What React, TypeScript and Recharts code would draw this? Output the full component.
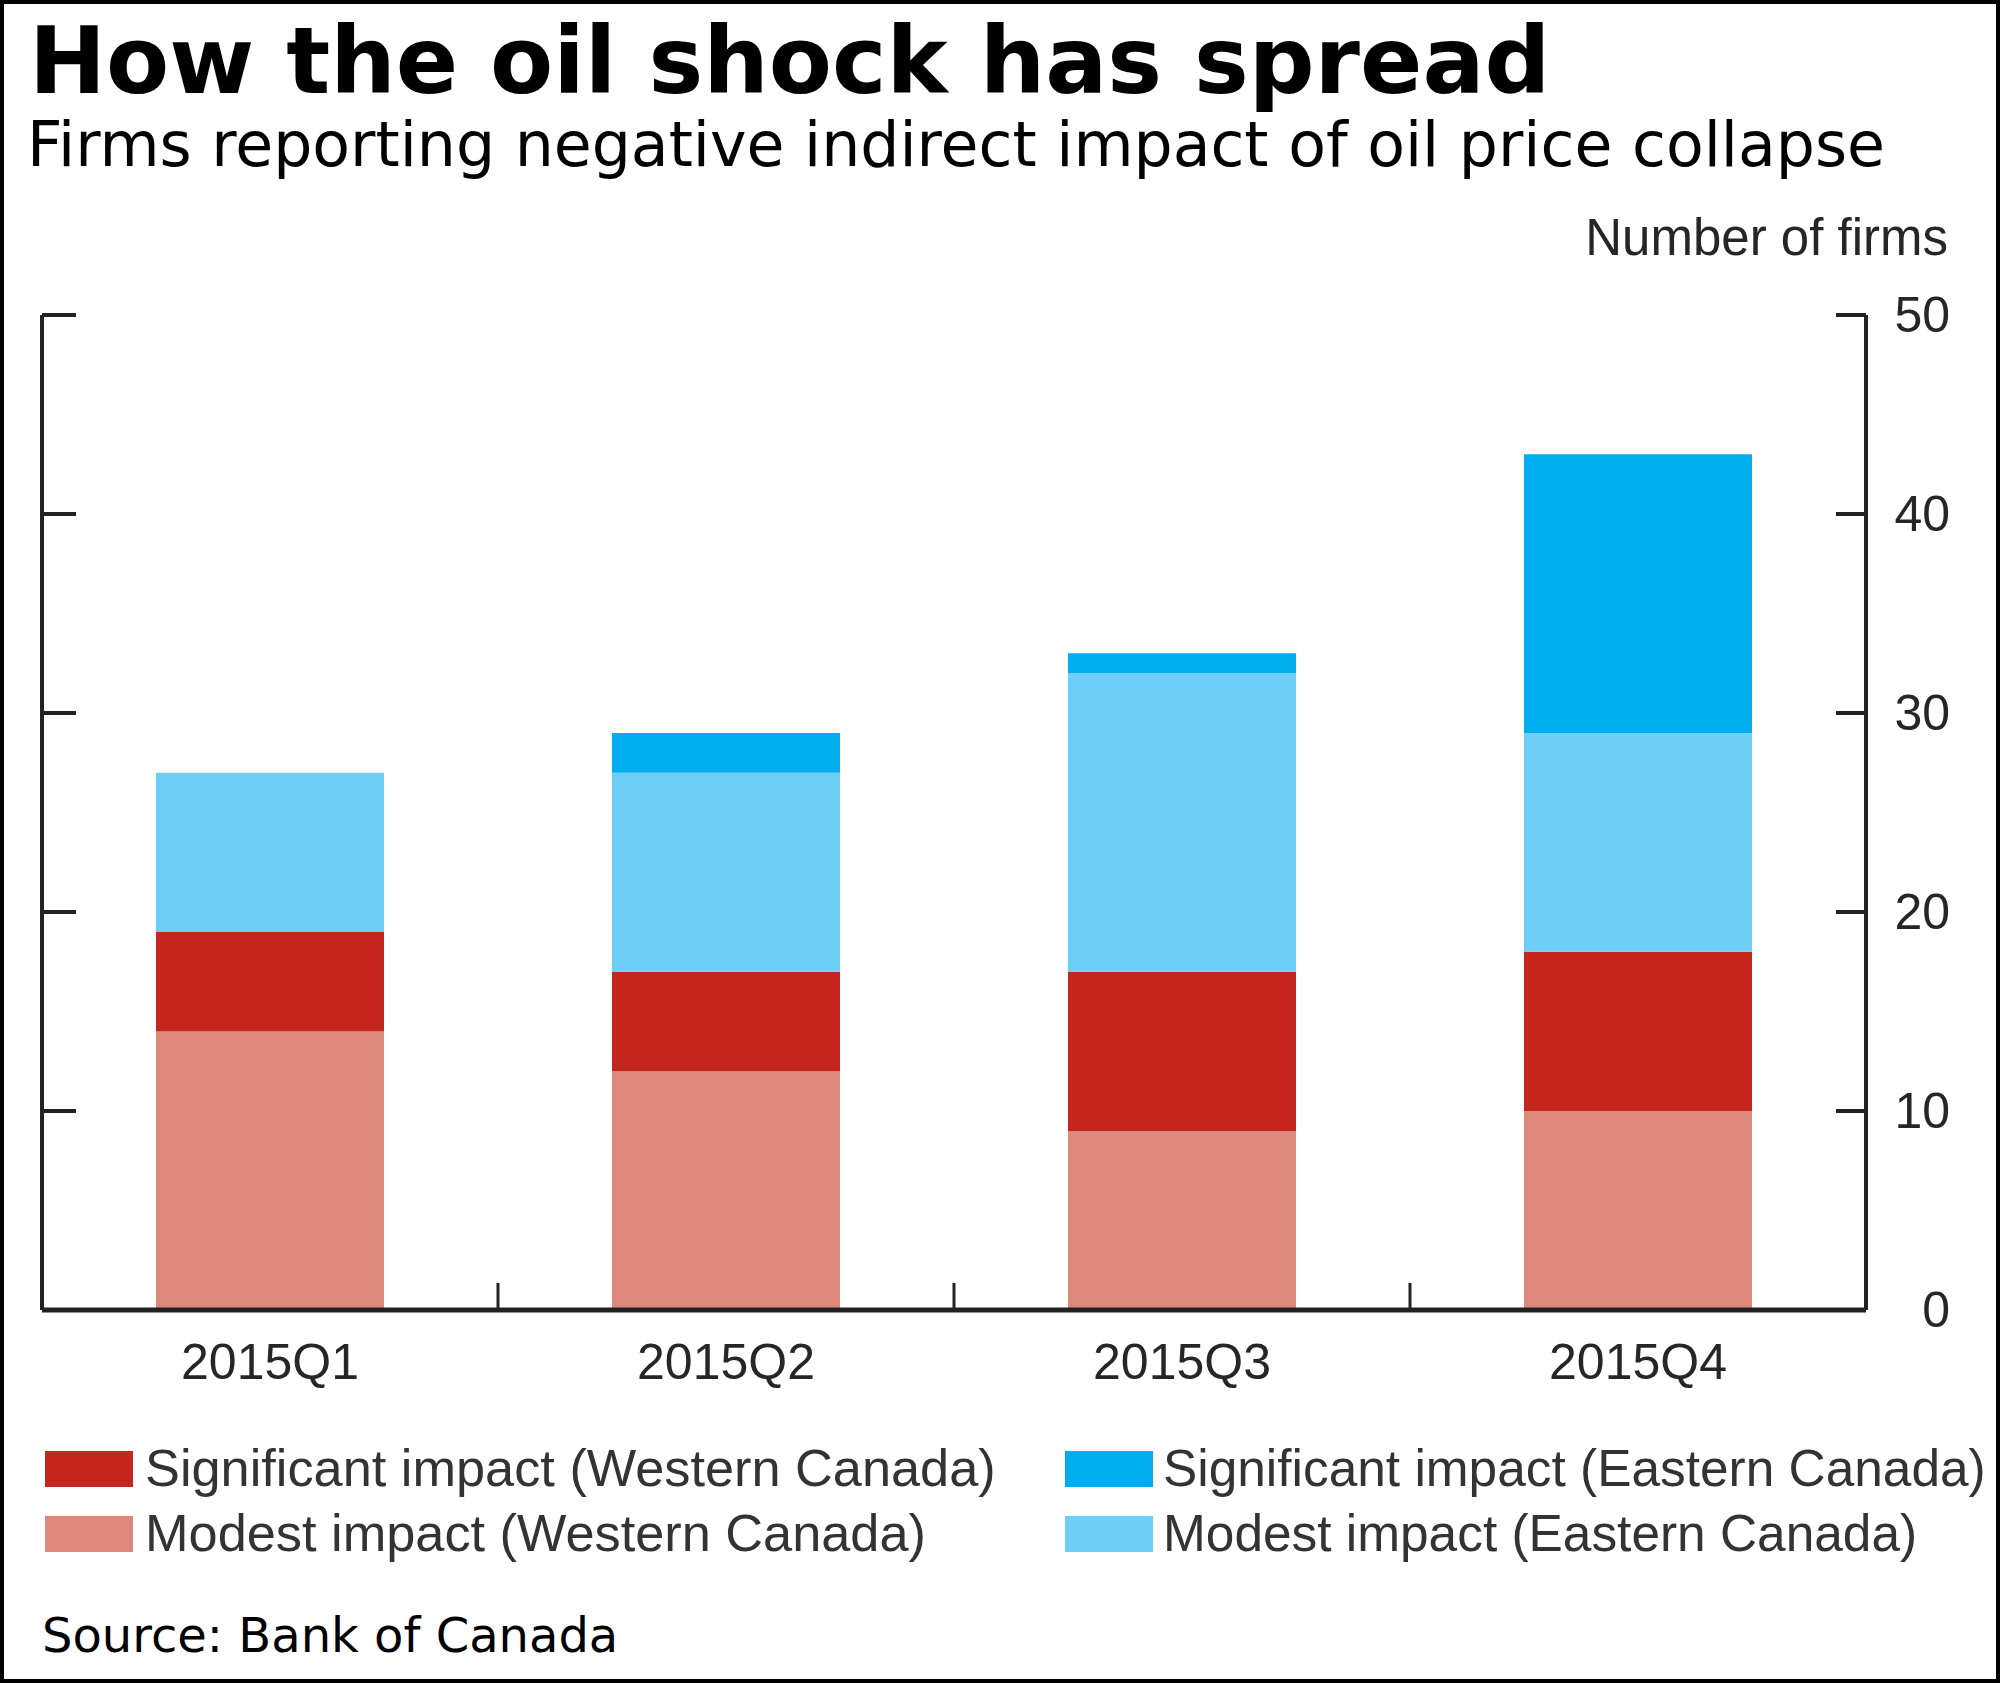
import React from "react";
import { BarChart, Bar, XAxis, YAxis } from "recharts";

// chart values
const quarters = ["2015Q1", "2015Q2", "2015Q3", "2015Q4"];
const modestWest = [14, 12, 9, 10];
const significantWest = [5, 5, 8, 8];
const modestEast = [8, 10, 15, 11];
const significantEast = [0, 2, 1, 14];
const yTicks = [0, 10, 20, 30, 40, 50];

// stacking order, bottom to top
const series = [
  { key: "modestWest", name: "Modest impact (Western Canada)", color: "#DE877B", values: modestWest },
  { key: "significantWest", name: "Significant impact (Western Canada)", color: "#C4261D", values: significantWest },
  { key: "modestEast", name: "Modest impact (Eastern Canada)", color: "#6DCFF6", values: modestEast },
  { key: "significantEast", name: "Significant impact (Eastern Canada)", color: "#00AEEF", values: significantEast },
];

const legendRows = [
  ["significantWest", "significantEast"],
  ["modestWest", "modestEast"],
];

const data = quarters.map((q, i) => {
  const row: Record<string, string | number> = { quarter: q };
  series.forEach((s) => {
    row[s.key] = s.values[i];
  });
  return row;
});

const W = 2000;
const H = 1683;
const plotLeft = 42;
const plotRight = 1866;
const plotTop = 315;
const plotBottom = 1310;
const leftAxisW = 2;
const rightAxisW = 100;
const xAxisH = 80;
const halfBand = (plotRight - plotLeft) / quarters.length / 2;

const axisColor = "#222";
const textColor = "#262626";
const sans = "'Liberation Sans', Arial, sans-serif";
const verdana = "'DejaVu Sans', Verdana, sans-serif";

// right axis tick: inward tick on both frame sides + label outside on the right
const RightTick = (props: any) => {
  const { x, y, payload } = props;
  return (
    <g>
      {payload.value !== 0 && (
        <>
          <line x1={x - 30} x2={x} y1={y} y2={y} stroke={axisColor} strokeWidth={4} />
          <line x1={plotLeft} x2={plotLeft + 34} y1={y} y2={y} stroke={axisColor} strokeWidth={4} />
        </>
      )}
      <text x={x + 84} y={y} dy={17} textAnchor="end" fontFamily={sans} fontSize={50} fill={textColor}>
        {payload.value}
      </text>
    </g>
  );
};

const BottomTick = (props: any) => {
  const { x, y, payload, index } = props;
  return (
    <g>
      {index < quarters.length - 1 && (
        <line x1={x + halfBand} x2={x + halfBand} y1={y} y2={y - 27} stroke={axisColor} strokeWidth={3} />
      )}
      <text x={x} y={y + 69} textAnchor="middle" fontFamily={sans} fontSize={50} fill={textColor}>
        {payload.value}
      </text>
    </g>
  );
};

export default function App() {
  const byKey = Object.fromEntries(series.map((s) => [s.key, s]));
  return (
    <div style={{ position: "absolute", left: 0, top: 0, width: W, height: H, background: "#fff" }}>
      <div style={{ position: "absolute", left: 0, top: 0 }}>
        <BarChart
          width={W}
          height={H}
          data={data}
          barCategoryGap="25%"
          margin={{
            top: plotTop,
            right: W - plotRight - rightAxisW,
            bottom: H - plotBottom - xAxisH,
            left: plotLeft - leftAxisW,
          }}
        >
          <XAxis
            dataKey="quarter"
            height={xAxisH}
            axisLine={{ stroke: axisColor, strokeWidth: 5 }}
            tickLine={false}
            tickSize={0}
            tickMargin={0}
            tick={<BottomTick />}
            interval={0}
          />
          <YAxis
            yAxisId="l"
            orientation="left"
            width={leftAxisW}
            domain={[0, 50]}
            ticks={yTicks}
            axisLine={{ stroke: axisColor, strokeWidth: 4 }}
            tickLine={false}
            tick={false}
          />
          <YAxis
            yAxisId="r"
            orientation="right"
            width={rightAxisW}
            domain={[0, 50]}
            ticks={yTicks}
            interval={0}
            axisLine={{ stroke: axisColor, strokeWidth: 4 }}
            tickLine={false}
            tickSize={0}
            tickMargin={0}
            tick={<RightTick />}
          />
          {series.map((s) => (
            <Bar
              key={s.key}
              dataKey={s.key}
              name={s.name}
              stackId="a"
              yAxisId="r"
              fill={s.color}
              isAnimationActive={false}
            />
          ))}
        </BarChart>
      </div>
      <svg width={W} height={H} style={{ position: "absolute", left: 0, top: 0, pointerEvents: "none" }}>
        <text x={29} y={93} fontFamily={verdana} fontWeight="bold" fontSize={92} fill="#000">
          How the oil shock has spread
        </text>
        <text x={27} y={166} fontFamily={verdana} fontSize={61.7} fill="#000">
          Firms reporting negative indirect impact of oil price collapse
        </text>
        <text x={1948} y={255} textAnchor="end" fontFamily={sans} fontSize={51} fill={textColor}>
          Number of firms
        </text>
        {legendRows.map((row, r) =>
          row.map((key, c) => {
            const s = byKey[key];
            const sx = c === 0 ? 45 : 1065;
            const top = r === 0 ? 1451 : 1516;
            return (
              <g key={key}>
                <rect x={sx} y={top} width={88} height={36} fill={s.color} />
                <text
                  x={sx + (c === 0 ? 100 : 98)}
                  y={top + 35}
                  fontFamily={sans}
                  fontSize={c === 0 ? 52.3 : 51.4}
                  fill="#333"
                >
                  {s.name}
                </text>
              </g>
            );
          })
        )}
        <text x={42} y={1652} fontFamily={verdana} fontSize={48} fill="#000">
          Source: Bank of Canada
        </text>
        <rect x={2} y={2} width={W - 4} height={H - 4} fill="none" stroke="#000" strokeWidth={4} />
      </svg>
    </div>
  );
}
